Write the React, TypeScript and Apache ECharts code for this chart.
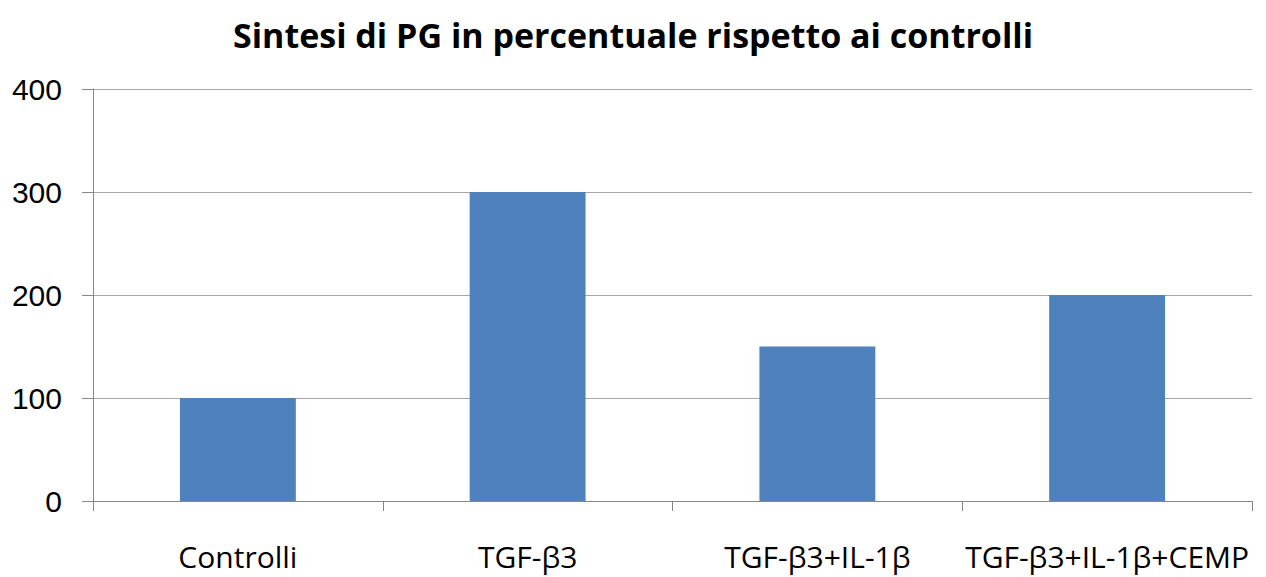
import React, { useEffect, useRef } from "react";
import * as echarts from "echarts";

const categories = ["Controlli", "TGF-β3", "TGF-β3+IL-1β", "TGF-β3+IL-1β+CEMP"];
const values = [100, 300, 150, 200];
const titleText = "Sintesi di PG in percentuale rispetto ai controlli";

export default function App() {
  const ref = useRef<HTMLDivElement>(null);
  useEffect(() => {
    const chart = echarts.init(ref.current!, null, { renderer: "svg" });
    chart.setOption({
      animation: false,
      backgroundColor: "#ffffff",
      title: {
        text: titleText,
        left: "center",
        top: 13,
        textStyle: {
          fontFamily: "Open Sans",
          fontWeight: "bold",
          fontSize: 34,
          color: "#000000",
        },
      },
      grid: { left: 93, right: 14, top: 89, bottom: 76, containLabel: false },
      xAxis: {
        type: "category",
        data: categories,
        axisLine: { lineStyle: { color: "#868686", width: 1 } },
        axisTick: { show: true, length: 10, lineStyle: { color: "#868686" }, alignWithLabel: false },
        axisLabel: {
          interval: 0,
          margin: 40,
          fontFamily: "Open Sans",
          fontSize: 30,
          color: "#000000",
        },
        splitLine: { show: false },
      },
      yAxis: {
        type: "value",
        min: 0,
        max: 400,
        interval: 100,
        axisLine: { show: true, lineStyle: { color: "#868686", width: 1 } },
        axisTick: { show: true, length: 11, lineStyle: { color: "#868686" } },
        axisLabel: {
          margin: 31,
          fontFamily: "Liberation Sans",
          fontSize: 30,
          color: "#000000",
        },
        splitLine: { show: true, lineStyle: { color: "#A6A6A6", width: 1 } },
      },
      series: [
        {
          type: "bar",
          data: values,
          barWidth: "40%",
          itemStyle: { color: "#4F81BD" },
        },
      ],
    });
    return () => chart.dispose();
  }, []);
  return <div ref={ref} style={{ width: 1266, height: 577, position: "absolute", left: 0, top: 0 }} />;
}
